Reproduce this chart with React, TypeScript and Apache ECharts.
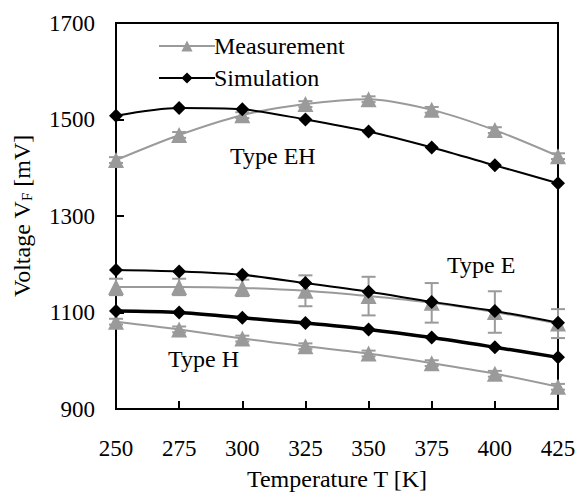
import React, { useEffect, useRef } from "react";
import * as echarts from "echarts";

const temps = [250, 275, 300, 325, 350, 375, 400, 425];
const measEH = [1416, 1468, 1509, 1532, 1542, 1520, 1478, 1424];
const simEH = [1508, 1524, 1521, 1500, 1475, 1442, 1405, 1368];
const measE = [1153, 1153, 1151, 1145, 1134, 1120, 1101, 1077];
const simE = [1188, 1185, 1178, 1161, 1143, 1122, 1103, 1079];
const measH = [1081, 1065, 1046, 1030, 1015, 995, 973, 946];
const simH = [1103, 1100, 1089, 1078, 1065, 1048, 1028, 1007];
const errEH = [6, 6, 6, 6, 6, 6, 6, 6];
const errE = [17, 17, 17, 32, 40, 41, 43, 30];
const errH = [6, 6, 6, 6, 6, 6, 6, 6];
const xTicks = { min: 250, max: 425, step: 25 };
const yTicks = { min: 900, max: 1700, step: 200 };

const FONT = "'Liberation Serif', 'Times New Roman', serif";
const GRAY = "#9a9a9a";
const BLACK = "#000000";

function pairs(vals: number[]) {
  return temps.map((t, i) => [t, vals[i]]);
}
function errData(vals: number[], errs: number[]) {
  return temps.map((t, i) => [t, vals[i] - errs[i], vals[i] + errs[i]]);
}

function errSeries(vals: number[], errs: number[]) {
  return {
    type: "custom",
    name: "err",
    z: 1,
    clip: false,
    data: errData(vals, errs),
    renderItem: (params: any, api: any) => {
      const x = api.value(0);
      const top = api.coord([x, api.value(2)]);
      const bot = api.coord([x, api.value(1)]);
      const hw = 7;
      const st = { stroke: GRAY, lineWidth: 2 };
      return {
        type: "group",
        children: [
          { type: "line", shape: { x1: top[0], y1: top[1], x2: bot[0], y2: bot[1] }, style: st },
          { type: "line", shape: { x1: top[0] - hw, y1: top[1], x2: top[0] + hw, y2: top[1] }, style: st },
          { type: "line", shape: { x1: bot[0] - hw, y1: bot[1], x2: bot[0] + hw, y2: bot[1] }, style: st },
        ],
      };
    },
  };
}

function measSeries(vals: number[]) {
  return {
    type: "line",
    name: "Measurement",
    data: pairs(vals),
    smooth: 0.3,
    symbol: "triangle",
    symbolSize: 16,
    z: 2,
    itemStyle: { color: GRAY },
    lineStyle: { color: GRAY, width: 2 },
  };
}
function simSeries(vals: number[], width: number) {
  return {
    type: "line",
    name: "Simulation",
    data: pairs(vals),
    smooth: 0.3,
    symbol: "diamond",
    symbolSize: 14,
    z: 3,
    itemStyle: { color: BLACK },
    lineStyle: { color: BLACK, width },
  };
}

export default function App() {
  const ref = useRef<HTMLDivElement>(null);
  useEffect(() => {
    document.body.style.margin = "0";
    const chart = echarts.init(ref.current!, null, { renderer: "svg" });
    const textBase = { fontFamily: FONT, fontSize: 24, color: BLACK };
    const tickBase = { fontFamily: FONT, fontSize: 23, color: BLACK };
    chart.setOption({
      animation: false,
      backgroundColor: "#ffffff",
      textStyle: { fontFamily: FONT },
      grid: {
        left: 116,
        right: 24,
        top: 23,
        bottom: 84,
        outerBoundsMode: "none",
        containLabel: false,
        show: true,
        borderColor: BLACK,
        borderWidth: 2,
        backgroundColor: "transparent",
      },
      legend: {
        data: ["Measurement", "Simulation"],
        orient: "vertical",
        left: 153,
        top: 29,
        itemWidth: 56,
        itemHeight: 14,
        itemGap: 8,
        textStyle: { ...textBase, padding: [0, 0, 0, -6] },
        selectedMode: false,
      },
      xAxis: {
        type: "value",
        min: xTicks.min,
        max: xTicks.max,
        interval: xTicks.step,
        name: "Temperature T [K]",
        nameLocation: "middle",
        nameGap: 58,
        nameTextStyle: textBase,
        axisLine: { lineStyle: { color: BLACK, width: 2 } },
        axisTick: { inside: true, length: 8, lineStyle: { color: BLACK, width: 2 } },
        axisLabel: { ...tickBase, margin: 28, formatter: (v: number) => String(v) },
        splitLine: { show: false },
      },
      yAxis: {
        type: "value",
        min: yTicks.min,
        max: yTicks.max,
        interval: yTicks.step,
        name: "Voltage V{sub|F} [mV]",
        nameLocation: "middle",
        nameGap: 82,
        nameTextStyle: {
          ...textBase,
          rich: {
            sub: { fontFamily: FONT, fontSize: 15, color: BLACK, verticalAlign: "bottom", padding: [8, 0, 0, 0] },
          },
        },
        axisLine: { lineStyle: { color: BLACK, width: 2 } },
        axisTick: { inside: true, length: 8, lineStyle: { color: BLACK, width: 2 } },
        axisLabel: { ...tickBase, margin: 21, formatter: (v: number) => String(v) },
        splitLine: { show: false },
      },
      graphic: [
        { type: "text", left: 230, top: 144, style: { text: "Type EH", fontFamily: FONT, fontSize: 24, fill: BLACK } },
        { type: "text", left: 447, top: 253, style: { text: "Type E", fontFamily: FONT, fontSize: 24, fill: BLACK } },
        { type: "text", left: 168, top: 347, style: { text: "Type H", fontFamily: FONT, fontSize: 24, fill: BLACK } },
      ],
      series: [
        errSeries(measEH, errEH),
        errSeries(measE, errE),
        errSeries(measH, errH),
        measSeries(measEH),
        measSeries(measE),
        measSeries(measH),
        simSeries(simEH, 2),
        simSeries(simE, 2),
        simSeries(simH, 3.5),
      ],
    });
    return () => chart.dispose();
  }, []);
  return <div ref={ref} style={{ width: 582, height: 493 }} />;
}
